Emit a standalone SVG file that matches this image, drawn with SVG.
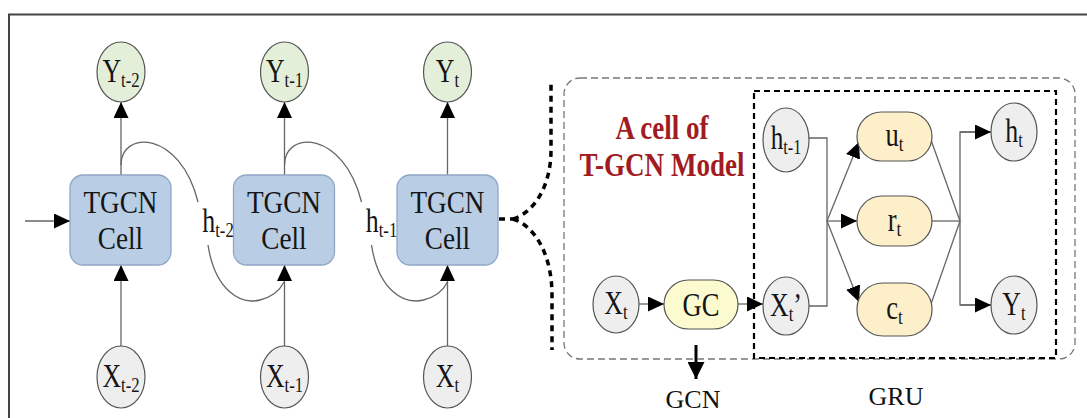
<svg xmlns="http://www.w3.org/2000/svg" width="1087" height="418" viewBox="0 0 1087 418">
<style>
.lbl{font-family:"Liberation Serif","Times New Roman",serif;font-size:34px;fill:#151515;}
.big{font-size:32px;}
.sub{font-size:22px;}
.red{font-family:"Liberation Serif","Times New Roman",serif;font-size:33px;font-weight:bold;fill:#a11c22;}
.cap{font-family:"Liberation Serif","Times New Roman",serif;font-size:26px;fill:#111;}
.cell{fill:#b9cde5;stroke:#8fa6c6;stroke-width:1.3;}
.yn{fill:#e3efd9;stroke:#555;stroke-width:1.2;}
.xn{fill:#eeeeee;stroke:#555;stroke-width:1.2;}
.gate{fill:#fdefc9;stroke:#555;stroke-width:1.2;}
.gc{fill:#fcfbcf;stroke:#555;stroke-width:1.2;}
.ln{fill:none;stroke:#666;stroke-width:1.3;}
.arr{fill:none;stroke:#666;stroke-width:1.3;marker-end:url(#ah);}
.brace{fill:none;stroke:#000;stroke-width:3.5;stroke-dasharray:6 5;}
</style>
<defs>
<marker id="ah" markerUnits="userSpaceOnUse" markerWidth="16" markerHeight="15" refX="16" refY="7.5" orient="auto">
<path d="M0,0 L16,7.5 L0,15 Z" fill="#000"/>
</marker>
<marker id="ahb" markerUnits="userSpaceOnUse" markerWidth="17" markerHeight="17" refX="17" refY="8.5" orient="auto">
<path d="M0,0 L17,8.5 L0,17 Z" fill="#000"/>
</marker>
</defs>
<rect width="1087" height="418" fill="#fff"/>
<rect x="9" y="14.5" width="1100" height="420" fill="none" stroke="#444" stroke-width="2"/>

<g id="connectors">
<line class="arr" x1="25" y1="221" x2="70" y2="221"/>
<line class="arr" x1="121" y1="175" x2="121" y2="102"/>
<line class="arr" x1="284.5" y1="175" x2="284.5" y2="102"/>
<line class="arr" x1="447.5" y1="175" x2="447.5" y2="102"/>
<line class="arr" x1="121" y1="347" x2="121" y2="265"/>
<line class="arr" x1="284.5" y1="347" x2="284.5" y2="265"/>
<line class="arr" x1="447.5" y1="347" x2="447.5" y2="265"/>
<path class="ln" d="M121,165 C121,130 180,130 198,202"/>
<path class="ln" d="M208,245 C215,290 240,305 260,300 C272,297 280,290 284,282"/>
<path class="ln" d="M284.5,165 C284.5,130 343.5,130 361.5,202"/>
<path class="ln" d="M371.5,245 C378.5,290 403.5,305 423.5,300 C435.5,297 443.5,290 447.5,282"/>
<path class="brace" d="M499,219 L513,219"/>
<path class="brace" d="M513,219 C535,212 551,185 551,150 L551,84"/>
<path class="brace" d="M513,219 C535,226 552,255 552,295 L552,350"/>
<line class="arr" x1="639" y1="304" x2="664" y2="304"/>
<line class="arr" x1="738" y1="304" x2="763" y2="304"/>
<polyline class="ln" points="808,138 827,138 827,306 809,306"/>
<line class="arr" x1="827" y1="221" x2="859" y2="142"/>
<line class="arr" x1="827" y1="221" x2="857" y2="221"/>
<line class="arr" x1="827" y1="221" x2="859" y2="302"/>
<line class="ln" x1="931" y1="140" x2="960" y2="221"/>
<line class="ln" x1="932" y1="221" x2="960" y2="221"/>
<line class="ln" x1="931" y1="304" x2="960" y2="221"/>
<polyline class="ln" points="991,132 960,132 960,305 991,305"/>
<line class="arr" x1="960" y1="132" x2="991" y2="132"/>
<line class="arr" x1="960" y1="305" x2="991" y2="305"/>
<line x1="696" y1="345" x2="696" y2="379" stroke="#000" stroke-width="3" marker-end="url(#ahb)"/>
</g>

<g id="frame-tgcn">
<rect x="564" y="78" width="511" height="281" rx="16" fill="none" stroke="#777" stroke-width="1.3" stroke-dasharray="7 4"/>
</g>
<g id="frame-gru">
<rect x="754" y="91" width="302" height="267" fill="none" stroke="#000" stroke-width="2.2" stroke-dasharray="6 4"/>
</g>

<g id="y-t-2"><ellipse class="yn" cx="121" cy="72" rx="24" ry="30"/><text class="lbl" text-anchor="middle" transform="translate(121,82) scale(0.76,1)">Y<tspan class="sub" dy="5">t-2</tspan></text></g>
<g id="y-t-1"><ellipse class="yn" cx="284.5" cy="72" rx="24" ry="30"/><text class="lbl" text-anchor="middle" transform="translate(284.5,82) scale(0.76,1)">Y<tspan class="sub" dy="5">t-1</tspan></text></g>
<g id="y-t"><ellipse class="yn" cx="447.5" cy="72" rx="24" ry="30"/><text class="lbl" text-anchor="middle" transform="translate(447.5,82) scale(0.76,1)">Y<tspan class="sub" dy="5">t</tspan></text></g>

<g id="cell-1"><rect class="cell" x="70" y="175" width="101" height="90" rx="13"/><text class="lbl big" text-anchor="middle" transform="translate(120.5,213) scale(0.85,1)">TGCN</text><text class="lbl big" text-anchor="middle" transform="translate(120.5,249) scale(0.85,1)">Cell</text></g>
<g id="cell-2"><rect class="cell" x="233.5" y="175" width="101" height="90" rx="13"/><text class="lbl big" text-anchor="middle" transform="translate(284,213) scale(0.85,1)">TGCN</text><text class="lbl big" text-anchor="middle" transform="translate(284,249) scale(0.85,1)">Cell</text></g>
<g id="cell-3"><rect class="cell" x="397" y="175" width="101" height="90" rx="13"/><text class="lbl big" text-anchor="middle" transform="translate(447.5,213) scale(0.85,1)">TGCN</text><text class="lbl big" text-anchor="middle" transform="translate(447.5,249) scale(0.85,1)">Cell</text></g>

<g id="h-t-2"><text class="lbl" text-anchor="middle" transform="translate(218,232) scale(0.76,1)">h<tspan class="sub" dy="5">t-2</tspan></text></g>
<g id="h-t-1-left"><text class="lbl" text-anchor="middle" transform="translate(381.5,232) scale(0.76,1)">h<tspan class="sub" dy="5">t-1</tspan></text></g>

<g id="x-t-2"><ellipse class="xn" cx="121" cy="377" rx="24" ry="31"/><text class="lbl" text-anchor="middle" transform="translate(121,387) scale(0.76,1)">X<tspan class="sub" dy="5">t-2</tspan></text></g>
<g id="x-t-1"><ellipse class="xn" cx="284.5" cy="377" rx="24" ry="31"/><text class="lbl" text-anchor="middle" transform="translate(284.5,387) scale(0.76,1)">X<tspan class="sub" dy="5">t-1</tspan></text></g>
<g id="x-t"><ellipse class="xn" cx="447.5" cy="377" rx="24" ry="31"/><text class="lbl" text-anchor="middle" transform="translate(447.5,387) scale(0.76,1)">X<tspan class="sub" dy="5">t</tspan></text></g>

<g id="title"><text class="red" text-anchor="middle" transform="translate(662,139) scale(0.82,1)">A cell of</text><text class="red" text-anchor="middle" transform="translate(662,176) scale(0.82,1)">T-GCN Model</text></g>

<g id="in-x"><ellipse class="xn" cx="616" cy="304.5" rx="23" ry="28.5"/><text class="lbl" text-anchor="middle" transform="translate(616,314) scale(0.76,1)">X<tspan class="sub" dy="5">t</tspan></text></g>
<g id="gc"><rect class="gc" x="664" y="280" width="74" height="49" rx="24.5"/><text class="lbl" text-anchor="middle" transform="translate(701,316) scale(0.78,1)">GC</text></g>
<g id="x-prime"><ellipse class="xn" cx="786" cy="306" rx="23" ry="29"/><text class="lbl" text-anchor="middle" transform="translate(786,316) scale(0.76,1)">X<tspan class="sub" dy="5">t</tspan><tspan dy="-5">’</tspan></text></g>
<g id="h-prev"><ellipse class="xn" cx="786" cy="140" rx="23" ry="32"/><text class="lbl" text-anchor="middle" transform="translate(786,149) scale(0.74,1)">h<tspan class="sub" dy="5">t-1</tspan></text></g>
<g id="u-gate"><rect class="gate" x="857" y="112" width="75" height="49" rx="24.5"/><text class="lbl" text-anchor="middle" transform="translate(894.5,146) scale(0.78,1)">u<tspan class="sub" dy="5">t</tspan></text></g>
<g id="r-gate"><rect class="gate" x="857" y="196" width="75" height="50" rx="25"/><text class="lbl" text-anchor="middle" transform="translate(894.5,231) scale(0.78,1)">r<tspan class="sub" dy="5">t</tspan></text></g>
<g id="c-gate"><rect class="gate" x="857" y="283" width="75" height="53" rx="26"/><text class="lbl" text-anchor="middle" transform="translate(894.5,319) scale(0.78,1)">c<tspan class="sub" dy="5">t</tspan></text></g>
<g id="h-out"><ellipse class="xn" cx="1014" cy="132" rx="23" ry="29"/><text class="lbl" text-anchor="middle" transform="translate(1014,142) scale(0.76,1)">h<tspan class="sub" dy="5">t</tspan></text></g>
<g id="y-out"><ellipse class="xn" cx="1014" cy="305" rx="23" ry="29"/><text class="lbl" text-anchor="middle" transform="translate(1014,315) scale(0.76,1)">Y<tspan class="sub" dy="5">t</tspan></text></g>

<g id="captions"><text class="cap" text-anchor="middle" x="693" y="408">GCN</text><text class="cap" text-anchor="middle" x="896" y="405">GRU</text></g>
</svg>
